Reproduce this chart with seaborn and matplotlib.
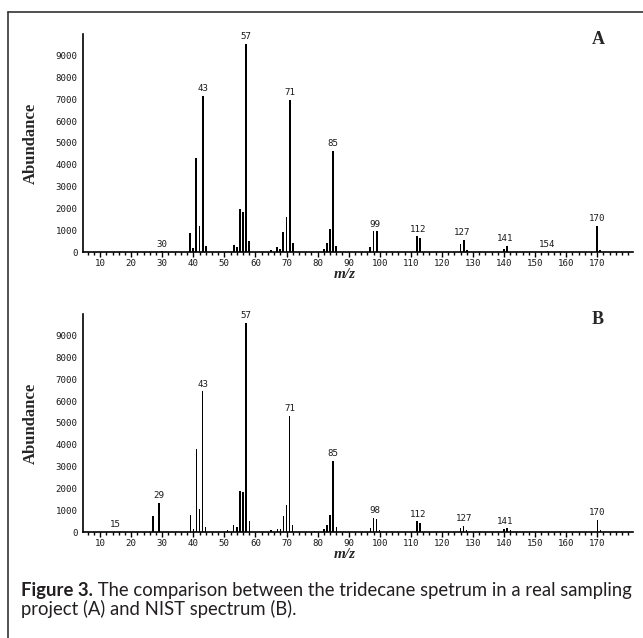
import matplotlib
matplotlib.use("Agg")
import matplotlib.pyplot as plt
from matplotlib.lines import Line2D
import seaborn as sns
import pandas as pd

# ---------------- data ----------------
mz_a = [30, 39, 40, 41, 42, 43, 44, 53, 54, 55, 56, 57, 58, 65, 67, 68, 69, 70, 71, 72,
        82, 83, 84, 85, 86, 97, 98, 99, 112, 113, 126, 127, 128, 140, 141, 154, 170, 171]
ab_a = [30, 890, 180, 4320, 1180, 7160, 260, 300, 250, 1990, 1830, 9540, 490, 80, 250, 140, 900, 1600, 6980, 430,
        120, 430, 1060, 4650, 290, 250, 950, 950, 720, 640, 370, 540, 80, 140, 290, 25, 1180, 100]
labels_a = [30, 43, 57, 71, 85, 99, 112, 127, 141, 154, 170]
label_pos_a = [30, 43, 57, 71, 85, 98.5, 112.5, 126.5, 140.5, 154, 170]
label_h_a = [30, 7160, 9540, 6980, 4650, 950, 720, 540, 290, 25, 1180]

mz_b = [15, 27, 29, 39, 40, 41, 42, 43, 44, 51, 53, 54, 55, 56, 57, 58, 65, 67, 68, 69, 70, 71, 72,
        79, 82, 83, 84, 85, 86, 97, 98, 99, 100, 112, 113, 126, 127, 128, 140, 141, 142, 170, 171]
ab_b = [20, 720, 1350, 770, 140, 3790, 1060, 6450, 250, 80, 300, 250, 1870, 1830, 9590, 490, 80, 120, 120, 720, 1230, 5340, 300,
        60, 140, 300, 770, 3250, 230, 180, 640, 600, 100, 490, 410, 180, 290, 80, 140, 170, 80, 540, 80]
labels_b = [15, 29, 43, 57, 71, 85, 98, 112, 127, 141, 170]
label_pos_b = [15, 29, 43, 57, 71, 85, 98.5, 112.5, 127, 140.5, 170]
label_h_b = [20, 1350, 6450, 9590, 5340, 3250, 640, 490, 290, 170, 540]

y_ticks = [0, 1000, 2000, 3000, 4000, 5000, 6000, 7000, 8000, 9000]
x_ticks = [10, 20, 30, 40, 50, 60, 70, 80, 90, 100, 110, 120, 130, 140, 150, 160, 170]

# ---------------- style ----------------
sns.set_style("white")
plt.rcParams["font.family"] = ["DejaVu Sans"]

W, H = 643, 638
fig = plt.figure(figsize=(W / 100, H / 100), dpi=100)
fig.patch.set_facecolor("white")


def fx(px):
    return px / W


def fy(py):
    return 1 - py / H


tick_font = dict(family=["DejaVu Sans Mono"], size=6.6, color="#1a1a1a")
serif_bold = ["Liberation Serif", "DejaVu Serif"]


def panel(top_px, mz, ab, labels, lpos, lh, letter, bar_w):
    base = top_px + 218
    ax = fig.add_axes([fx(83), fy(base), 550 / W, 218 / H])
    df = pd.DataFrame({"mz": mz, "ab": ab})
    sns.barplot(data=df, x="mz", y="ab", native_scale=True, width=bar_w,
                color="black", saturation=1, errorbar=None, linewidth=0, ax=ax)
    ax.set_xlim(4.5, 181.5)
    ax.set_ylim(0, 10000)
    ax.set_xlabel("")
    ax.set_ylabel("")
    for s in ["top", "right"]:
        ax.spines[s].set_visible(False)
    for s in ["left", "bottom"]:
        ax.spines[s].set_color("black")
        ax.spines[s].set_linewidth(1.2)
    ax.set_xticks(x_ticks)
    ax.set_xticklabels([str(v) for v in x_ticks])
    ax.set_xticks(list(range(6, 182, 2)), minor=True)
    ax.tick_params(axis="x", which="major", direction="out", length=3.5, width=1,
                   color="black", pad=1.5, bottom=True)
    ax.tick_params(axis="x", which="minor", direction="out", length=2.5, width=1,
                   color="black", bottom=True)
    ax.set_yticks(y_ticks)
    ax.set_yticklabels([str(v) for v in y_ticks])
    ax.tick_params(axis="y", which="major", length=0, pad=4, left=True)
    for t in ax.get_xticklabels() + ax.get_yticklabels():
        t.set_fontfamily(tick_font["family"])
        t.set_fontsize(tick_font["size"])
        t.set_color(tick_font["color"])
    ax.grid(False)
    for lab, xp, yh in zip(labels, lpos, lh):
        ax.annotate(str(lab), xy=(xp, yh), xytext=(0, 2), textcoords="offset points",
                    ha="center", va="bottom", **tick_font)
    ax.text(-0.095, 0.5, "Abundance", transform=ax.transAxes, rotation=90,
            ha="center", va="center", family=serif_bold, weight="bold", size=12)
    ax.text(0.476, -0.103, "m/z", transform=ax.transAxes, ha="center", va="center",
            family=serif_bold, weight="bold", style="italic", size=11)
    fig.text(fx(598), fy(top_px + 6), letter, ha="center", va="center",
             family=serif_bold, weight="bold", size=13)
    return ax


panel(34, mz_a, ab_a, labels_a, label_pos_a, label_h_a, "A", 0.6)
panel(314, mz_b, ab_b, labels_b, label_pos_b, label_h_b, "B", 0.45)

# frame lines
fig.add_artist(Line2D([fx(8), fx(8)], [fy(12), 0], color="#333333", lw=1.2))
fig.add_artist(Line2D([fx(8), 1], [fy(12), fy(12)], color="#333333", lw=1.2))

# caption
cap_fam = ["Lato", "Liberation Sans", "DejaVu Sans"]
cap_col = "#231f20"
fs = 12
t1 = fig.text(fx(21), fy(596), "Figure 3.", family=cap_fam, weight="bold", size=fs,
              color=cap_col, ha="left", va="baseline")
fig.canvas.draw()
r = fig.canvas.get_renderer()
bb = t1.get_window_extent(r)
t2 = fig.text(bb.x1 / W, fy(596), " The comparison between the tridecane spetrum in a real sampling",
              family=cap_fam, size=fs, color=cap_col, ha="left", va="baseline")
fig.canvas.draw()
bb2 = t2.get_window_extent(r)
scale = (632 - 21) / (bb2.x1 - bb.x0)
fs2 = fs * scale
t1.set_fontsize(fs2)
fig.canvas.draw()
bb = t1.get_window_extent(r)
t2.set_fontsize(fs2)
t2.set_position((bb.x1 / W, fy(596)))
fig.text(fx(21), fy(615), "project (A) and NIST spectrum (B).", family=cap_fam, size=fs2,
         color=cap_col, ha="left", va="baseline")

fig.savefig("out.png", dpi=100, facecolor="white")
